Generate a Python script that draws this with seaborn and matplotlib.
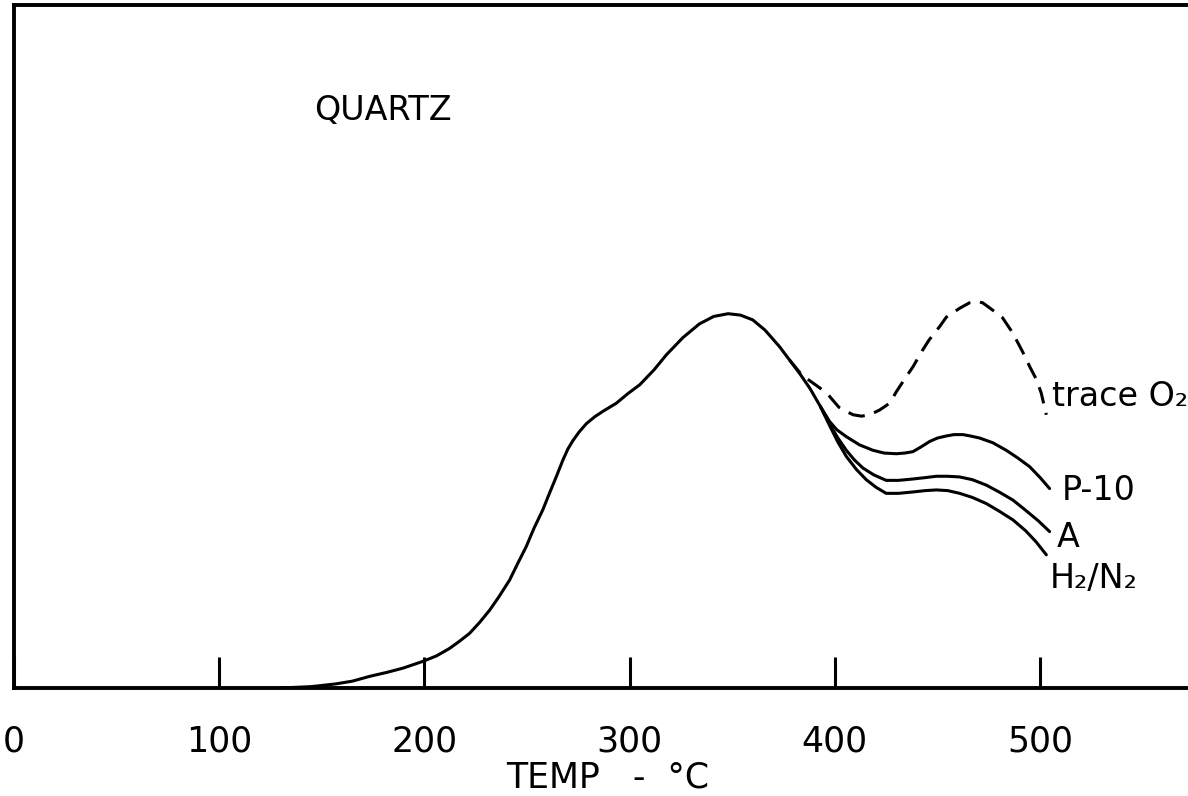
import numpy as np
import pandas as pd
import matplotlib
matplotlib.use("Agg")
import matplotlib.pyplot as plt
import seaborn as sns

# ----------- 곡선 데이터 -----------
# 공통 곡선 (130 ~ 393 °C)
main_temp = [130, 145, 157, 165, 173.4, 182, 189.6, 199.4, 206, 212.4, 217, 222.1, 227, 231.9,
             236.5, 241.6, 245.5, 249.7, 253.5, 257.8, 261, 264.3, 267.6, 270, 272.4, 275.5,
             279, 283, 287, 293.6, 299.2, 305, 312, 318, 326, 334, 341, 348, 354, 360, 366,
             373, 378, 383, 388, 393]
main_sig = [0.0, 0.2, 0.6, 1.0, 1.7, 2.3, 2.9, 3.9, 4.7, 5.8, 6.8, 8.0, 9.6, 11.4,
            13.4, 15.8, 18.2, 20.7, 23.4, 26.1, 28.5, 30.9, 33.4, 35.0, 36.2, 37.5,
            38.7, 39.7, 40.5, 41.7, 43.1, 44.4, 46.6, 48.8, 51.3, 53.3, 54.4, 54.8, 54.6, 53.9, 52.4,
            50.0, 48.0, 46.0, 43.8, 41.2]

# trace O2 (점선)
trace_temp = [378, 384, 391, 396, 402, 405.5, 409, 413, 417, 421.8, 426.7, 430, 434.8, 438,
              442.8, 446, 451, 454.3, 460.8, 465.6, 469, 472, 477, 481.7, 486.6, 491.5,
              495, 498.3, 500.5, 503]
trace_sig = [48.0, 45.8, 44.3, 43.2, 41.1, 40.5, 40.0, 39.8, 40.0, 40.7, 41.7, 43.4, 45.6, 47.0,
             49.5, 51.0, 52.9, 54.3, 55.6, 56.4, 56.6, 56.4, 55.3, 54.2, 52.0, 49.2,
             47.0, 45.1, 43.2, 40.0]

# P-10, A, H2/N2 (393 °C 이후 분기)
p10_temp = [393, 397.5, 401, 405.6, 412, 418.6, 424, 430, 434, 438, 442, 446.2, 450, 454.3,
            458, 462.4, 466, 470.5, 477, 483.5, 489, 494.9, 500, 504.6]
p10_sig = [41.2, 39.0, 37.8, 36.8, 35.6, 34.8, 34.4, 34.3, 34.4, 34.6, 35.3, 36.1, 36.6, 36.9,
           37.1, 37.1, 36.9, 36.6, 35.9, 34.8, 33.7, 32.4, 30.8, 29.2]

a_temp = [393, 397.5, 401.5, 405.6, 409.5, 413.7, 419, 425, 431, 438, 444, 449.4, 455, 460.8,
          467, 473.8, 480, 486.8, 493, 499, 504.6]
a_sig = [41.2, 38.6, 36.6, 34.8, 33.4, 32.2, 31.2, 30.4, 30.4, 30.6, 30.8, 31.0, 31.0, 30.9,
         30.5, 29.7, 28.7, 27.5, 26.0, 24.5, 22.9]

hn_temp = [393, 397.5, 401.5, 405.6, 410.5, 415.3, 420, 425, 431, 438, 444, 449.4, 455, 460.8,
           467, 473.8, 480, 486.8, 493, 498, 503]
hn_sig = [41.2, 38.4, 36.0, 33.9, 32.0, 30.5, 29.4, 28.5, 28.5, 28.7, 28.9, 29.0, 28.9, 28.5,
          27.9, 27.0, 25.9, 24.6, 23.0, 21.4, 19.5]

tick_vals = [0, 100, 200, 300, 400, 500]
tick_labels = ["0", "100", "200", "300", "400", "500"]

# ----------- 그리기 -----------
sns.set_style("white")
plt.rcParams['font.family'] = ['DejaVu Sans']
plt.rcParams['text.color'] = 'black'
plt.rcParams['xtick.color'] = 'black'
plt.rcParams['xtick.labelcolor'] = 'black'
plt.rcParams['axes.labelcolor'] = 'black'

fig = plt.figure(figsize=(11.88, 7.96), dpi=100)
ax = fig.add_axes([13.5 / 1188, 108 / 796, 1232 / 1188, 683 / 796])

lw = 2.2
for t, s in [(main_temp, main_sig), (p10_temp, p10_sig), (a_temp, a_sig), (hn_temp, hn_sig)]:
    df = pd.DataFrame({"temp": t, "signal": s})
    sns.lineplot(data=df, x="temp", y="signal", color="black", lw=lw,
                 sort=False, estimator=None, ax=ax)

df_trace = pd.DataFrame({"temp": trace_temp, "signal": trace_sig})
sns.lineplot(data=df_trace, x="temp", y="signal", color="black", lw=lw,
             sort=False, estimator=None, ax=ax)
ax.lines[-1].set_dashes([5.5, 3.2])

ax.set_xlim(0, 600)
ax.set_ylim(0, 100)

# 축 스타일
for side in ["left", "bottom", "top"]:
    ax.spines[side].set_visible(True)
    ax.spines[side].set_linewidth(2.8)
    ax.spines[side].set_color("black")
ax.spines["right"].set_visible(False)

ax.set_xticks(tick_vals)
ax.set_xticklabels(tick_labels, fontsize=25, color="black")
ax.tick_params(axis="x", bottom=True, direction="in", length=22, width=2.2, pad=26,
               color="black")
ax.set_yticks([])
ax.set_ylabel("")
ax.set_xlabel("TEMP   -  °C", fontsize=25, labelpad=2, color="black")
ax.xaxis.label.set_x(0.482)

# 주석 텍스트
ax.text(146.6, 83.2, "QUARTZ", fontsize=24, va="baseline", ha="left", color="black")
ax.text(505.6, 41.3, "trace O\u2082", fontsize=24, va="baseline", ha="left", color="black")
ax.text(510.5, 27.5, "P-10", fontsize=24, va="baseline", ha="left", color="black")
ax.text(508.0, 20.6, "A", fontsize=24, va="baseline", ha="left", color="black")
ax.text(504.6, 14.6, "H\u2082/N\u2082", fontsize=24, va="baseline", ha="left", color="black")

fig.savefig("out.png", dpi=100)
